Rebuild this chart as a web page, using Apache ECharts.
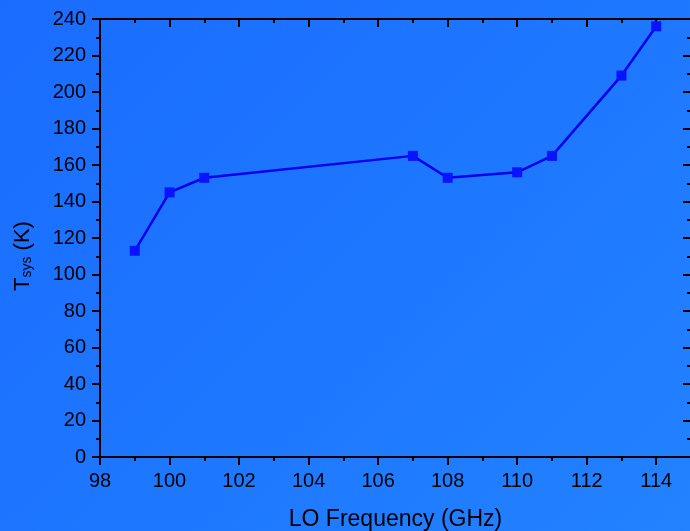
<!DOCTYPE html>
<html>
<head>
<meta charset="utf-8">
<script src="https://cdn.jsdelivr.net/npm/echarts@6/dist/echarts.min.js"></script>
<style>
  html, body { margin: 0; padding: 0; }
  body { background: linear-gradient(135deg, #1a6cff 0%, #1e78ff 55%, #2282ff 100%); }
  #chart { width: 690px; height: 531px; }
</style>
</head>
<body>
<div id="chart"></div>
<script>
// LO frequency (GHz) and measured system temperature (K)
const loFrequency = [99, 100, 101, 107, 108, 110, 111, 113, 114];
const tSys = [113, 145, 153, 165, 153, 156, 165, 209, 236];

const xRange = [98, 115];
const yRange = [0, 240];

const FONT = '"Liberation Sans", Arial, sans-serif';
const black = '#000';

const points = loFrequency.map((f, i) => [f, tSys[i]]);

function xAx(position, interval, len, inside, labels, extra) {
  return Object.assign({
    type: 'value', position, min: xRange[0], max: xRange[1], interval,
    axisLine: { show: true, onZero: false, lineStyle: { color: black, width: 2 } },
    axisTick: { show: true, inside, length: len, lineStyle: { color: black, width: 2 } },
    axisLabel: { show: labels, showMaxLabel: false, color: black, fontSize: 20, fontFamily: FONT, margin: 14 },
    splitLine: { show: false }
  }, extra || {});
}

function yAx(position, inside, labels, extra) {
  return Object.assign({
    type: 'value', position, min: yRange[0], max: yRange[1], interval: 20,
    axisLine: { show: true, onZero: false, lineStyle: { color: black, width: 2 } },
    axisTick: { show: true, inside, length: 8, lineStyle: { color: black, width: 2 } },
    minorTick: { show: true, splitNumber: 2, length: 4, lineStyle: { color: black, width: 2 } },
    axisLabel: { show: labels, color: black, fontSize: 20, fontFamily: FONT, margin: 14 },
    splitLine: { show: false },
    minorSplitLine: { show: false }
  }, extra || {});
}

const chart = echarts.init(document.getElementById('chart'), null, { renderer: 'canvas' });
chart.setOption({
  backgroundColor: 'transparent',
  animation: false,
  grid: { left: 100, right: -1, top: 19, bottom: 74, containLabel: false, outerBoundsMode: 'none' },
  xAxis: [
    xAx('bottom', 1, 4, false, false),
    xAx('bottom', 2, 8, false, true, {
      name: 'LO Frequency (GHz)',
      nameLocation: 'middle',
      nameGap: 51,
      nameTextStyle: { color: black, fontSize: 23, fontFamily: FONT }
    }),
    xAx('top', 1, 4, true, false),
    xAx('top', 2, 8, true, false)
  ],
  yAxis: [
    yAx('left', false, true, {
      name: '{t|T}{s|sys}{t| (K)}',
      nameLocation: 'middle',
      nameGap: 66,
      nameTextStyle: {
        color: black, fontFamily: FONT, padding: [0, 36, 0, 0],
        rich: {
          t: { fontSize: 22, fontFamily: FONT, color: black, verticalAlign: 'bottom', lineHeight: 26 },
          s: { fontSize: 14, fontFamily: FONT, color: black, verticalAlign: 'bottom', lineHeight: 20 }
        }
      }
    }),
    yAx('right', true, false)
  ],
  series: [{
    type: 'line',
    xAxisIndex: 1,
    yAxisIndex: 0,
    data: points,
    symbol: 'rect',
    symbolSize: 10,
    itemStyle: { color: '#0a12ff' },
    lineStyle: { color: '#0000f0', width: 2.5 }
  }]
});
</script>
</body>
</html>
